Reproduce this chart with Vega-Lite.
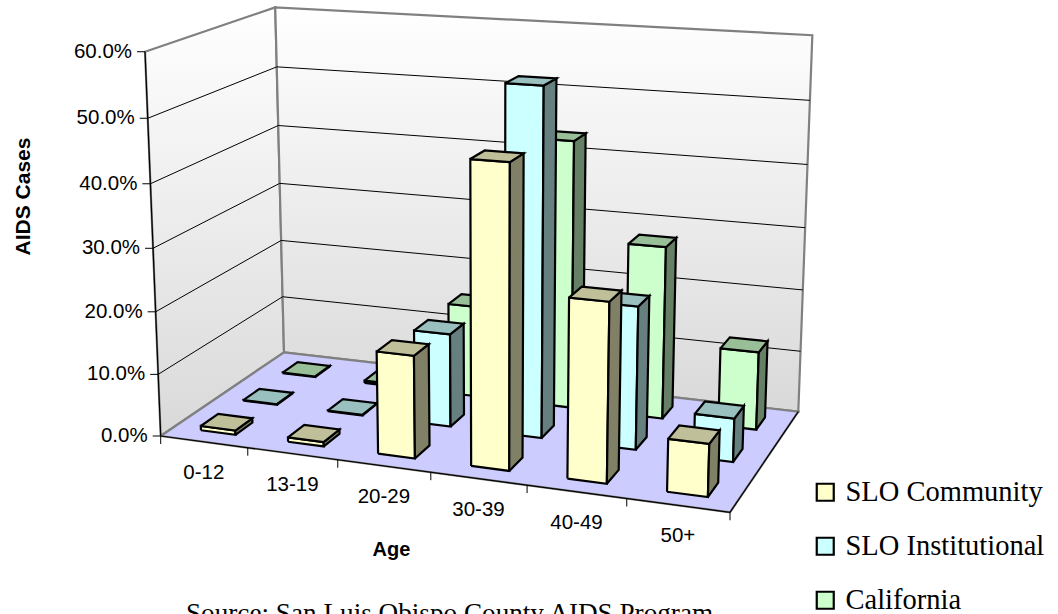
{
  "$schema": "https://vega.github.io/schema/vega-lite/v6.json",
  "width": 1058,
  "height": 614,
  "padding": 0,
  "autosize": {"type": "none"},
  "background": "white",
  "config": {"view": {"stroke": null}},
  "title": {
    "text": "Source:  San Luis Obispo County AIDS Program",
    "orient": "bottom",
    "anchor": "start",
    "frame": "group",
    "font": "Liberation Serif",
    "fontSize": 27.2,
    "fontWeight": "normal",
    "color": "black",
    "baseline": "alphabetic",
    "offset": 0,
    "dx": 186,
    "dy": 7
  },
  "datasets": {
    "cases": [
      {"age": "0-12", "series": "California", "share": 0.1},
      {"age": "13-19", "series": "California", "share": 0.4},
      {"age": "20-29", "series": "California", "share": 15.1},
      {"age": "30-39", "series": "California", "share": 43.4},
      {"age": "40-49", "series": "California", "share": 27.8},
      {"age": "50+", "series": "California", "share": 12.5},
      {"age": "0-12", "series": "SLO Institutional", "share": 0.1},
      {"age": "13-19", "series": "SLO Institutional", "share": 0.1},
      {"age": "20-29", "series": "SLO Institutional", "share": 15.0},
      {"age": "30-39", "series": "SLO Institutional", "share": 54.8},
      {"age": "40-49", "series": "SLO Institutional", "share": 22.5},
      {"age": "50+", "series": "SLO Institutional", "share": 6.8},
      {"age": "0-12", "series": "SLO Community", "share": 0.7},
      {"age": "13-19", "series": "SLO Community", "share": 0.7},
      {"age": "20-29", "series": "SLO Community", "share": 16.1},
      {"age": "30-39", "series": "SLO Community", "share": 46.5},
      {"age": "40-49", "series": "SLO Community", "share": 27.4},
      {"age": "50+", "series": "SLO Community", "share": 8.0}
    ],
    "levels": [
      {"level": 0}, {"level": 10}, {"level": 20}, {"level": 30},
      {"level": 40}, {"level": 50}, {"level": 60}
    ],
    "ages": [
      {"age": "0-12", "i": 0}, {"age": "13-19", "i": 1}, {"age": "20-29", "i": 2},
      {"age": "30-39", "i": 3}, {"age": "40-49", "i": 4}, {"age": "50+", "i": 5}
    ],
    "panels": [
      {"panel": "left wall"}, {"panel": "back wall"}, {"panel": "floor"}
    ],
    "edges": [
      {"edge": "height axis"}, {"edge": "age axis"}, {"edge": "floor side"}
    ]
  },
  "layer": [
    {
      "data": {"name": "panels"},
      "transform": [
        {"filter": "datum.panel != 'floor'"},
        {"calculate": "[0,1,2,3,4]", "as": "k"},
        {"flatten": ["k"]},
        {"calculate": "datum.panel == 'back wall' ? [0,1,1,0,0][datum.k] : 0", "as": "X"},
        {"calculate": "datum.panel == 'back wall' ? 1 : [0,1,1,0,0][datum.k]", "as": "Y"},
        {"calculate": "[0,0,1,1,0][datum.k]", "as": "Z"},
        {"calculate": "(498.33*datum.X+157.34*datum.Y-22.2*datum.Z+160.7)/(1-0.09722*datum.X+0.11985*datum.Y-0.045*datum.Z)", "as": "px"},
        {"calculate": "(26.49*datum.X-41.48*datum.Y-386.6*datum.Z+436)/(1-0.09722*datum.X+0.11985*datum.Y-0.045*datum.Z)", "as": "py"}
      ],
      "mark": {
        "type": "line",
        "stroke": "#808080",
        "strokeWidth": 2.2,
        "strokeJoin": "miter",
        "fill": {
          "gradient": "linear",
          "x1": 0, "y1": 0, "x2": 0, "y2": 1,
          "stops": [
            {"offset": 0, "color": "#ffffff"},
            {"offset": 1, "color": "#d9d9d9"}
          ]
        }
      },
      "encoding": {
        "x": {
          "field": "px",
          "type": "quantitative",
          "scale": {"domain": [0, 1058], "nice": false, "zero": false},
          "axis": {
            "title": "Age",
            "labels": false,
            "ticks": false,
            "domain": false,
            "grid": false,
            "titleFont": "Liberation Sans",
            "titleFontSize": 20,
            "titleFontWeight": "bold",
            "titleColor": "black",
            "titleX": 391,
            "titleY": -65,
            "titleBaseline": "middle",
            "titleAlign": "center"
          }
        },
        "y": {
          "field": "py",
          "type": "quantitative",
          "scale": {"domain": [614, 0], "nice": false, "zero": false},
          "axis": {
            "title": "AIDS Cases",
            "labels": false,
            "ticks": false,
            "domain": false,
            "grid": false,
            "titleFont": "Liberation Sans",
            "titleFontSize": 21,
            "titleFontWeight": "bold",
            "titleColor": "black",
            "titleX": 23,
            "titleY": 196,
            "titleAngle": 270,
            "titleBaseline": "middle",
            "titleAlign": "center"
          }
        },
        "detail": {"field": "panel"},
        "order": {"field": "k"}
      }
    },
    {
      "data": {"name": "panels"},
      "transform": [
        {"filter": "datum.panel == 'floor'"},
        {"calculate": "[0,1,2,3,4]", "as": "k"},
        {"flatten": ["k"]},
        {"calculate": "[0,1,1,0,0][datum.k]", "as": "X"},
        {"calculate": "[0,0,1,1,0][datum.k]", "as": "Y"},
        {"calculate": "(498.33*datum.X+157.34*datum.Y+160.7)/(1-0.09722*datum.X+0.11985*datum.Y)", "as": "px"},
        {"calculate": "(26.49*datum.X-41.48*datum.Y+436)/(1-0.09722*datum.X+0.11985*datum.Y)", "as": "py"}
      ],
      "mark": {"type": "line", "stroke": "#808080", "strokeWidth": 2.2, "fill": "#ccccff"},
      "encoding": {
        "x": {"field": "px", "type": "quantitative"},
        "y": {"field": "py", "type": "quantitative"},
        "order": {"field": "k"}
      }
    },
    {
      "data": {"name": "levels"},
      "transform": [
        {"filter": "datum.level > 0 && datum.level < 60"},
        {"calculate": "[0,1,2]", "as": "k"},
        {"flatten": ["k"]},
        {"calculate": "datum.k == 2 ? 1 : 0", "as": "X"},
        {"calculate": "datum.k == 0 ? 0 : 1", "as": "Y"},
        {"calculate": "datum.level/60", "as": "Z"},
        {"calculate": "(498.33*datum.X+157.34*datum.Y-22.2*datum.Z+160.7)/(1-0.09722*datum.X+0.11985*datum.Y-0.045*datum.Z)", "as": "px"},
        {"calculate": "(26.49*datum.X-41.48*datum.Y-386.6*datum.Z+436)/(1-0.09722*datum.X+0.11985*datum.Y-0.045*datum.Z)", "as": "py"}
      ],
      "mark": {"type": "line", "stroke": "black", "strokeWidth": 1},
      "encoding": {
        "x": {"field": "px", "type": "quantitative"},
        "y": {"field": "py", "type": "quantitative"},
        "detail": {"field": "level"},
        "order": {"field": "k"}
      }
    },
    {
      "data": {"name": "edges"},
      "transform": [
        {"calculate": "[0,1]", "as": "k"},
        {"flatten": ["k"]},
        {"calculate": "datum.edge == 'height axis' ? 0 : (datum.edge == 'age axis' ? datum.k : 1)", "as": "X"},
        {"calculate": "datum.edge == 'floor side' ? datum.k : 0", "as": "Y"},
        {"calculate": "datum.edge == 'height axis' ? datum.k : 0", "as": "Z"},
        {"calculate": "(498.33*datum.X+157.34*datum.Y-22.2*datum.Z+160.7)/(1-0.09722*datum.X+0.11985*datum.Y-0.045*datum.Z)", "as": "px"},
        {"calculate": "(26.49*datum.X-41.48*datum.Y-386.6*datum.Z+436)/(1-0.09722*datum.X+0.11985*datum.Y-0.045*datum.Z)", "as": "py"}
      ],
      "mark": {"type": "line", "stroke": "black", "strokeWidth": 1.2},
      "encoding": {
        "x": {"field": "px", "type": "quantitative"},
        "y": {"field": "py", "type": "quantitative"},
        "detail": {"field": "edge"},
        "order": {"field": "k"}
      }
    },
    {
      "data": {"name": "levels"},
      "transform": [
        {"calculate": "datum.level/60", "as": "Z"},
        {"calculate": "(-22.2*datum.Z+160.7)/(1-0.045*datum.Z)", "as": "px"},
        {"calculate": "(-386.6*datum.Z+436)/(1-0.045*datum.Z)", "as": "py"},
        {"calculate": "datum.px-8", "as": "tickEnd"}
      ],
      "mark": {"type": "rule", "stroke": "black", "strokeWidth": 1},
      "encoding": {
        "x": {"field": "px", "type": "quantitative"},
        "x2": {"field": "tickEnd"},
        "y": {"field": "py", "type": "quantitative"}
      }
    },
    {
      "data": {"name": "levels"},
      "transform": [
        {"calculate": "datum.level/60", "as": "Z"},
        {"calculate": "(-22.2*datum.Z+160.7)/(1-0.045*datum.Z)", "as": "px"},
        {"calculate": "(-386.6*datum.Z+436)/(1-0.045*datum.Z)", "as": "py"},
        {"calculate": "format(datum.level/100,'.1%')", "as": "label"}
      ],
      "mark": {"type": "text", "align": "right", "baseline": "middle", "dx": -13, "font": "Liberation Sans", "fontSize": 20.5, "color": "black"},
      "encoding": {
        "x": {"field": "px", "type": "quantitative"},
        "y": {"field": "py", "type": "quantitative"},
        "text": {"field": "label"}
      }
    },
    {
      "data": {"name": "ages"},
      "transform": [
        {"calculate": "[0,1,2,3,4,5,6]", "as": "n"},
        {"flatten": ["n"]},
        {"filter": "datum.n == datum.i || (datum.i == 5 && datum.n == 6)"},
        {"calculate": "datum.n/6", "as": "X"},
        {"calculate": "(498.33*datum.X+160.7)/(1-0.09722*datum.X)", "as": "px"},
        {"calculate": "(26.49*datum.X+436)/(1-0.09722*datum.X)", "as": "py"},
        {"calculate": "datum.py+8", "as": "tickEnd"}
      ],
      "mark": {"type": "rule", "stroke": "black", "strokeWidth": 1},
      "encoding": {
        "x": {"field": "px", "type": "quantitative"},
        "y": {"field": "py", "type": "quantitative"},
        "y2": {"field": "tickEnd"}
      }
    },
    {
      "data": {"name": "ages"},
      "transform": [
        {"calculate": "(datum.i+0.5)/6", "as": "X"},
        {"calculate": "(498.33*datum.X+160.7)/(1-0.09722*datum.X)", "as": "px"},
        {"calculate": "(26.49*datum.X+436)/(1-0.09722*datum.X)", "as": "py"}
      ],
      "mark": {"type": "text", "align": "center", "baseline": "middle", "dy": 31, "font": "Liberation Sans", "fontSize": 20.5, "color": "black"},
      "encoding": {
        "x": {"field": "px", "type": "quantitative"},
        "y": {"field": "py", "type": "quantitative"},
        "text": {"field": "age"}
      }
    },
    {
      "data": {"name": "cases"},
      "transform": [
        {"calculate": "indexof(['0-12','13-19','20-29','30-39','40-49','50+'],datum.age)", "as": "i"},
        {"calculate": "indexof(['SLO Community','SLO Institutional','California'],datum.series)", "as": "j"},
        {"calculate": "['front','side','top']", "as": "face"},
        {"flatten": ["face"]},
        {"calculate": "[0,1,2,3,4]", "as": "k"},
        {"flatten": ["k"]},
        {"calculate": "{front:[0,1,1,0,0],side:[1,1,1,1,1],top:[0,1,1,0,0]}[datum.face][datum.k]", "as": "vx"},
        {"calculate": "{front:[0,0,0,0,0],side:[0,1,1,0,0],top:[0,0,1,1,0]}[datum.face][datum.k]", "as": "vy"},
        {"calculate": "{front:[0,0,1,1,0],side:[0,0,1,1,0],top:[1,1,1,1,1]}[datum.face][datum.k]", "as": "vz"},
        {"calculate": "(datum.i+0.5)/6+0.002+(datum.vx-0.5)/15", "as": "X"},
        {"calculate": "(datum.j+0.5)/3+(datum.vy-0.5)*2/15", "as": "Y"},
        {"calculate": "datum.vz*datum.share/60", "as": "Z"},
        {"calculate": "(498.33*datum.X+157.34*datum.Y-22.2*datum.Z+160.7)/(1-0.09722*datum.X+0.11985*datum.Y-0.045*datum.Z)", "as": "px"},
        {"calculate": "(26.49*datum.X-41.48*datum.Y-386.6*datum.Z+436)/(1-0.09722*datum.X+0.11985*datum.Y-0.045*datum.Z)", "as": "py"},
        {"calculate": "datum.face == 'front' ? datum.series : datum.series + ' ' + datum.face", "as": "shade"},
        {"calculate": "datum.series + '/' + datum.age + '/' + datum.face", "as": "polygon"}
      ],
      "mark": {"type": "line", "stroke": "black", "strokeWidth": 2.2, "strokeJoin": "miter"},
      "encoding": {
        "x": {"field": "px", "type": "quantitative"},
        "y": {"field": "py", "type": "quantitative"},
        "detail": {"field": "polygon"},
        "order": {"field": "k"},
        "fill": {
          "field": "shade",
          "type": "nominal",
          "scale": {
            "domain": [
              "SLO Community", "SLO Institutional", "California",
              "SLO Community side", "SLO Institutional side", "California side",
              "SLO Community top", "SLO Institutional top", "California top"
            ],
            "range": [
              "#ffffcc", "#ccffff", "#ccffcc",
              "#808066", "#668080", "#668066",
              "#bfbf99", "#99bfbf", "#99bf99"
            ]
          },
          "legend": {
            "orient": "none",
            "legendX": 811,
            "legendY": 478,
            "title": null,
            "values": ["SLO Community", "SLO Institutional", "California"],
            "symbolType": "square",
            "symbolSize": 289,
            "symbolStrokeColor": "black",
            "symbolStrokeWidth": 2.2,
            "labelFont": "Liberation Serif",
            "labelFontSize": 28.5,
            "labelColor": "black",
            "labelLimit": 400,
            "labelOffset": 6,
            "rowPadding": 25
          }
        }
      }
    }
  ]
}
